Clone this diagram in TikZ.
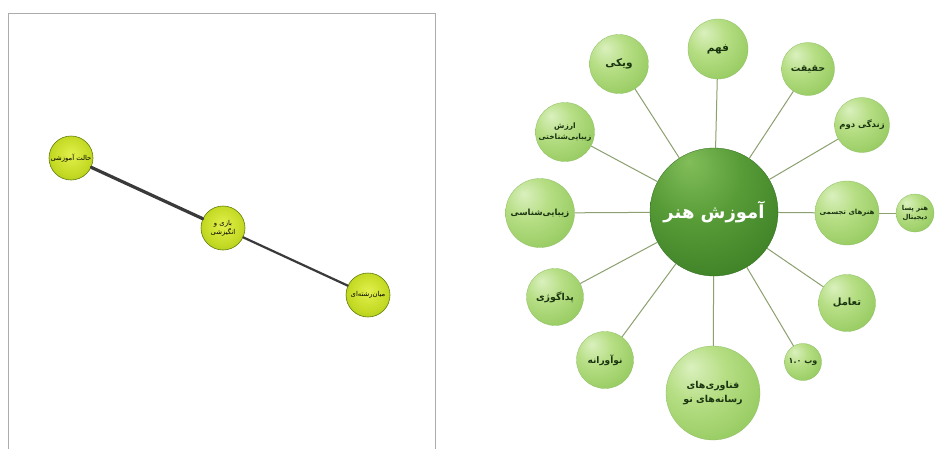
\documentclass[tikz,border=0pt]{standalone}
\usepackage{fontspec}
\newfontfamily\fa[Script=Arabic]{DejaVu Sans}
\TeXXeTstate=1
\newcommand\rl[1]{\beginR #1\endR}
\definecolor{lgA}{RGB}{218,240,190}
\definecolor{lgB}{RGB}{182,222,132}
\definecolor{lgC}{RGB}{146,200,92}
\definecolor{lgD}{RGB}{120,178,66}
\definecolor{lgE}{RGB}{140,190,98}
\definecolor{dgA}{RGB}{130,190,90}
\definecolor{dgB}{RGB}{88,156,56}
\definecolor{dgC}{RGB}{62,128,38}
\definecolor{dgD}{RGB}{46,104,26}
\definecolor{yA}{RGB}{226,240,76}
\definecolor{yB}{RGB}{196,218,36}
\definecolor{yC}{RGB}{154,186,18}
\definecolor{yD}{RGB}{100,126,10}
\definecolor{txtg}{RGB}{26,52,16}
\definecolor{spokec}{RGB}{140,160,112}
\definecolor{framec}{RGB}{172,172,172}
\definecolor{edgec}{RGB}{58,58,58}
\pgfdeclareradialshading{lightball}{\pgfpoint{-12bp}{14bp}}{color(0bp)=(lgA); color(16bp)=(lgB); color(38bp)=(lgC); color(50bp)=(lgD); color(70bp)=(lgD)}
\pgfdeclareradialshading{darkball}{\pgfpoint{-10bp}{20bp}}{color(0bp)=(dgA); color(18bp)=(dgB); color(38bp)=(dgC); color(50bp)=(dgD); color(70bp)=(dgD)}
\pgfdeclareradialshading{yellowball}{\pgfpoint{0bp}{4bp}}{color(0bp)=(yA); color(22bp)=(yB); color(42bp)=(yC); color(50bp)=(yD); color(70bp)=(yD)}
\tikzset{
  sat/.style={circle, inner sep=0pt, shading=lightball, draw=lgE, line width=0.3pt,
    text=txtg, font=\fa\bfseries\fontsize{10.5}{12}\selectfont, align=center},
  hub/.style={circle, inner sep=0pt, shading=darkball, draw=dgD, line width=0.3pt,
    text=white, font=\fa\bfseries\fontsize{18}{22}\selectfont, minimum size=128pt},
  yball/.style={circle, inner sep=0pt, shading=yellowball, draw=yD, line width=0.6pt,
    text=black, font=\fa\fontsize{6.8}{9}\selectfont, align=center, minimum size=44pt},
  spoke/.style={draw=spokec, line width=1pt},
  thickedge/.style={draw=edgec, line cap=round}
}
\begin{document}
\begin{tikzpicture}[x=1pt,y=-1pt]
\useasboundingbox[fill=white] (0,0) rectangle (936,448);
% left frame
\draw[framec, line width=0.8pt] (8,452) -- (8,13) -- (435,13) -- (435,452);
% left graph
\node[yball] (la) at (71,158) {\rl{حالت آموزشی}};
\node[yball] (lb) at (223,228) {\rl{بازی و}\\\rl{انگیزشی}};
\node[yball] (lc) at (368,295) {\rl{میان^^^^200cرشته^^^^200cای}};
\draw[thickedge, line width=3.2pt] (la) -- (lb);
\draw[thickedge, line width=2.2pt] (lb) -- (lc);
% right mind map
\node[hub] (C) at (714,212) {\rl{آموزش هنر}};
\node[sat, minimum size=60pt] (fahm) at (718,49) {\rl{فهم}};
\node[sat, minimum size=53pt, font=\fa\bfseries\fontsize{9.5}{12}\selectfont] (haq) at (808,69) {\rl{حقیقت}};
\node[sat, minimum size=55pt, font=\fa\bfseries\fontsize{8.5}{11}\selectfont] (zen) at (862,125) {\rl{زندگی دوم}};
\node[sat, minimum size=64pt, font=\fa\bfseries\fontsize{7}{10}\selectfont] (taj) at (847,213) {\rl{هنرهای تجسمی}};
\node[sat, minimum size=38pt, font=\fa\bfseries\fontsize{6.8}{9}\selectfont] (pasa) at (915,213) {\rl{هنر پسا}\\\rl{دیجیتال}};
\node[sat, minimum size=57pt, font=\fa\bfseries\fontsize{10}{12}\selectfont] (taa) at (847,303) {\rl{تعامل}};
\node[sat, minimum size=37pt, font=\fa\bfseries\fontsize{8}{11}\selectfont] (web) at (803,362) {\rl{وب \beginL۱.۰\endL}};
\node[sat, minimum size=94pt, font=\fa\bfseries\fontsize{9.5}{14}\selectfont] (fan) at (713,393) {\rl{فناوری^^^^200cهای}\\\rl{رسانه^^^^200cهای نو}};
\node[sat, minimum size=57pt, font=\fa\bfseries\fontsize{9}{12}\selectfont] (noa) at (605,360) {\rl{نوآورانه}};
\node[sat, minimum size=57pt, font=\fa\bfseries\fontsize{9.5}{12}\selectfont] (ped) at (555,297) {\rl{پداگوژی}};
\node[sat, minimum size=69pt, font=\fa\bfseries\fontsize{8.5}{12}\selectfont] (zib) at (540,213) {\rl{زیبایی^^^^200cشناسی}};
\node[sat, minimum size=59pt, font=\fa\bfseries\fontsize{7.5}{11}\selectfont] (arz) at (565,132) {\rl{ارزش}\\\rl{زیبایی^^^^200cشناختی}};
\node[sat, minimum size=59pt] (wiki) at (619,64) {\rl{ویکی}};
\foreach \s in {fahm,haq,zen,taj,taa,web,fan,noa,ped,zib,arz,wiki}
  \draw[spoke] (C) -- (\s);
\draw[spoke] (taj) -- (pasa);
\end{tikzpicture}
\end{document}
